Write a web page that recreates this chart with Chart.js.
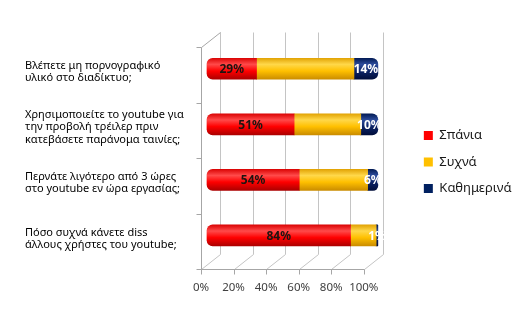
<!DOCTYPE html>
<html>
<head>
<meta charset="utf-8">
<script src="https://cdn.jsdelivr.net/npm/chart.js@4.4.1/dist/chart.umd.min.js"></script>
<style>
    html, body { margin: 0; padding: 0; background: #fff; }
</style>
</head>
<body>
<canvas id="myChart" width="512" height="321"></canvas>
<script>
// Ερωτήσεις (κατηγορίες)
const categories = [
    ['Βλέπετε μη πορνογραφικό', 'υλικό στο διαδίκτυο;'],
    ['Χρησιμοποιείτε το youtube για', 'την προβολή τρέιλερ πριν', 'κατεβάσετε παράνομα ταινίες;'],
    ['Περνάτε λιγότερο από 3 ώρες', 'στο youtube εν ώρα εργασίας;'],
    ['Πόσο συχνά κάνετε diss', 'άλλους χρήστες του youtube;']
];

const seriesNames = ['Σπάνια', 'Συχνά', 'Καθημερινά'];
const rarely = [29, 51, 54, 84];
const often = [57, 39, 40, 15];
const daily = [14, 10, 6, 1];
const xTickValues = [0, 20, 40, 60, 80, 100];

// Colors
const seriesColors = ['#ff0000', '#ffc000', '#002060'];
const cylinderStops = [
    ['#d80000', '#ff4a4a', '#ff0000', '#a80000'],
    ['#e0a000', '#ffd84a', '#ffc000', '#c88a00'],
    ['#001850', '#2d4c9c', '#0c2468', '#000c38']
];

// axis ranges (tuned so the bars sit between the front and back walls)
const barMin = -3.5;
const barMax = 119.0;
const frontMax = 128.6;
const depthX = 19;
const depthY = -15;
const wallShift = 6;

function cylinder(stops) {
    return c => {
        const y = c.chart.scales.y;
        if (c.type !== 'data' || !y) return stops[2];
        const cy = y.getPixelForValue(c.dataIndex);
        if (!isFinite(cy)) return stops[2];
        const g = c.chart.ctx.createLinearGradient(0, cy - 11, 0, cy + 11);
        g.addColorStop(0, stops[0]);
        g.addColorStop(0.3, stops[1]);
        g.addColorStop(0.6, stops[2]);
        g.addColorStop(1, stops[3]);
        return g;
    };
}

// 3D walls: back grid, floor and left wall
const walls = {
    id: 'walls',
    beforeDatasetsDraw(chart) {
        const { ctx, scales: { xf, y } } = chart;
        const top = Math.round(y.getPixelForValue(-0.5) + wallShift) + 0.5;
        const bottom = Math.round(y.getPixelForValue(categories.length - 0.5) + wallShift) + 0.5;
        const line = (x1, y1, x2, y2, color) => {
            ctx.strokeStyle = color;
            ctx.beginPath();
            ctx.moveTo(x1, y1);
            ctx.lineTo(x2, y2);
            ctx.stroke();
        };
        ctx.save();
        ctx.lineWidth = 1;
        xTickValues.forEach(v => {
            const fx = Math.round(xf.getPixelForValue(v)) + 0.5;
            line(fx + depthX, top + depthY, fx + depthX, bottom + depthY, '#c4c4c4');
            line(fx, bottom, fx + depthX, bottom + depthY, '#c4c4c4');
            line(fx, bottom, fx, bottom + 5, '#a6a6a6');
        });
        const x0 = Math.round(xf.getPixelForValue(0)) + 0.5;
        const x100 = Math.round(xf.getPixelForValue(100)) + 0.5;
        line(x0, bottom, x100, bottom, '#a6a6a6');
        line(x0, top, x0, bottom, '#a6a6a6');
        line(x0, top, x0 + depthX, top + depthY, '#a6a6a6');
        for (let k = 0; k <= categories.length; k++) {
            const yk = Math.round(y.getPixelForValue(k - 0.5) + wallShift) + 0.5;
            line(x0 - 5, yk, x0, yk, '#a6a6a6');
        }
        ctx.restore();
    }
};

// percent labels on the red and navy parts
const barLabels = {
    id: 'barLabels',
    afterDatasetsDraw(chart) {
        const ctx = chart.ctx;
        chart.data.datasets.forEach((ds, di) => {
            if (!ds.labelColor) return;
            chart.getDatasetMeta(di).data.forEach((bar, i) => {
                ctx.save();
                ctx.font = 'bold 12px "Noto Sans"';
                ctx.fillStyle = ds.labelColor;
                ctx.textAlign = 'center';
                ctx.textBaseline = 'middle';
                ctx.fillText(ds.data[i] + '%', (bar.x + bar.base) / 2, bar.y + 1);
                ctx.restore();
            });
        });
    }
};

function makeDataset(index, data, radius, labelColor) {
    return {
        label: seriesNames[index],
        data: data,
        backgroundColor: cylinder(cylinderStops[index]),
        borderWidth: 0,
        borderSkipped: false,
        borderRadius: radius,
        barThickness: 21,
        labelColor: labelColor
    };
}

const ctx = document.getElementById('myChart').getContext('2d');
const chart = new Chart(ctx, {
    type: 'bar',
    data: {
        labels: categories,
        datasets: [
            makeDataset(0, rarely, { topLeft: 6, bottomLeft: 6 }, '#1e1410'),
            makeDataset(1, often, 0, null),
            makeDataset(2, daily, { topRight: 6, bottomRight: 6 }, '#ffffff')
        ]
    },
    options: {
        indexAxis: 'y',
        responsive: false,
        animation: false,
        layout: { padding: { left: 25, top: 11, right: -9.5, bottom: 8 } },
        plugins: {
            // empty title only keeps space above the plot
            title: { display: true, text: '', padding: { top: 0, bottom: 18 }, font: { size: 10, lineHeight: 1.2 } },
            legend: {
                position: 'right',
                align: 'center',
                labels: {
                    boxWidth: 9,
                    boxHeight: 9,
                    padding: 13.5,
                    color: '#1a1a1a',
                    font: { family: '"Noto Sans"', size: 13 },
                    generateLabels: c => Chart.defaults.plugins.legend.labels.generateLabels(c).map((item, i) => ({
                        ...item,
                        fillStyle: seriesColors[i],
                        strokeStyle: seriesColors[i],
                        lineWidth: 0
                    }))
                }
            },
            tooltip: { enabled: false }
        },
        scales: {
            x: {
                type: 'linear',
                stacked: true,
                display: false,
                min: barMin,
                max: barMax
            },
            xf: {
                type: 'linear',
                position: 'bottom',
                min: 0,
                max: frontMax,
                grid: { display: false, drawTicks: false },
                border: { display: false },
                ticks: {
                    padding: 18,
                    maxRotation: 0,
                    minRotation: 0,
                    autoSkip: false,
                    color: '#404040',
                    font: { family: '"Noto Sans"', size: 11.5 },
                    callback: v => v + '%'
                },
                afterBuildTicks: axis => { axis.ticks = xTickValues.map(v => ({ value: v })); }
            },
            y: {
                stacked: true,
                grid: { display: false, drawTicks: false },
                border: { display: false },
                ticks: {
                    crossAlign: 'far',
                    labelOffset: 3,
                    color: '#000000',
                    font: { family: '"Noto Sans"', size: 11, lineHeight: 1.1 }
                },
                afterFit: axis => { axis.width = 176; }
            }
        }
    },
    plugins: [walls, barLabels]
});
</script>
</body>
</html>
